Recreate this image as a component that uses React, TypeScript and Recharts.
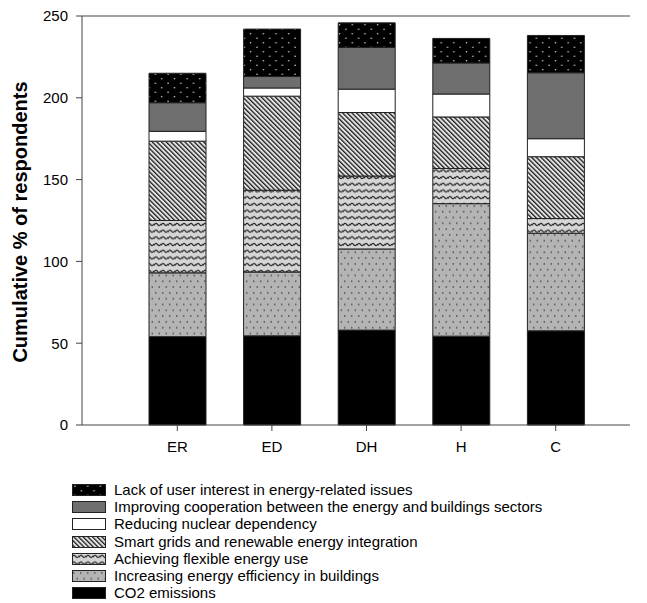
import React from "react";
import { BarChart, Bar, XAxis, YAxis, ReferenceLine } from "recharts";

const categories = ["ER", "ED", "DH", "H", "C"];
const co2Emissions = [54, 54.5, 58, 54.3, 57.6];
const energyEfficiency = [39, 39, 49.6, 81, 59.6];
const flexibleUse = [32, 50, 44.6, 21.5, 9];
const smartGrids = [48.5, 57.5, 38.8, 31.5, 37.8];
const nuclearDependency = [6, 5, 14.3, 14, 11];
const cooperation = [17.5, 7, 25.5, 19, 40.3];
const lackOfInterest = [18, 29, 15, 15, 22.8];
const yTicks = [0, 50, 100, 150, 200, 250];

const seriesNames = {
  co2: "CO2 emissions",
  eff: "Increasing energy efficiency in buildings",
  flex: "Achieving flexible energy use",
  smart: "Smart grids and renewable energy integration",
  nuclear: "Reducing nuclear dependency",
  coop: "Improving cooperation between the energy and\u2009buildings sectors",
  lack: "Lack of user interest in energy-related issues",
};

const data = categories.map((c, i) => ({
  cat: c,
  co2: co2Emissions[i],
  eff: energyEfficiency[i],
  flex: flexibleUse[i],
  smart: smartGrids[i],
  nuclear: nuclearDependency[i],
  coop: cooperation[i],
  lack: lackOfInterest[i],
}));

const FONT = "'Liberation Sans', Arial, Helvetica, sans-serif";

function PatternDefs({ p }: { p: string }) {
  return (
    <defs>
      <pattern id={`${p}lack`} patternUnits="userSpaceOnUse" width="12.7" height="9">
        <rect width="12.7" height="9" fill="#000" />
        <circle cx="3" cy="2.25" r="0.8" fill="#d0d0d0" />
        <circle cx="9.35" cy="6.75" r="0.8" fill="#d0d0d0" />
      </pattern>
      <pattern id={`${p}eff`} patternUnits="userSpaceOnUse" width="7" height="11.6">
        <rect width="7" height="11.6" fill="#b4b4b4" />
        <circle cx="1.75" cy="2.9" r="0.8" fill="#333" />
        <circle cx="5.25" cy="8.7" r="0.8" fill="#333" />
      </pattern>
      <pattern id={`${p}flex`} patternUnits="userSpaceOnUse" width="7" height="6.7">
        <rect width="7" height="6.7" fill="#d6d6d6" />
        <path d="M0 4.3 Q1.75 0.7 3.5 3.3 T7 2.8" fill="none" stroke="#2a2a2a" strokeWidth="1.2" />
      </pattern>
      <pattern id={`${p}smart`} patternUnits="userSpaceOnUse" width="3.3" height="10" patternTransform="rotate(-45)">
        <rect width="3.3" height="10" fill="#e4e4e4" />
        <rect x="0" width="1.3" height="10" fill="#1e1e1e" />
      </pattern>
    </defs>
  );
}

function fillFor(key: string, p: string) {
  if (key === "co2") return "#000000";
  if (key === "nuclear") return "#ffffff";
  if (key === "coop") return "#6e6e6e";
  return `url(#${p}${key})`;
}

const stackOrder = ["co2", "eff", "flex", "smart", "nuclear", "coop", "lack"];
const legendOrder = ["lack", "coop", "nuclear", "smart", "flex", "eff", "co2"];

const YLabel = () => (
  <text
    x={20}
    y={222}
    transform="rotate(-90, 20, 222)"
    textAnchor="middle"
    dominantBaseline="central"
    fontFamily={FONT}
    fontWeight="bold"
    fontSize={20}
    fill="#000"
  >
    Cumulative % of respondents
  </text>
);

export default function App() {
  return (
    <div
      style={{
        position: "absolute",
        left: 0,
        top: 0,
        width: 647,
        height: 603,
        background: "#fff",
        fontFamily: FONT,
        overflow: "hidden",
      }}
    >
      <BarChart
        width={647}
        height={460}
        data={data}
        margin={{ top: 16, right: 17, left: 22, bottom: 5 }}
        barSize={57}
      >
        <PatternDefs p="c" />
        <ReferenceLine y={250} stroke="#444" strokeWidth={1.2} ifOverflow="visible" />
        <XAxis
          dataKey="cat"
          height={30}
          padding={{ left: 48, right: 27 }}
          tickSize={6}
          tickMargin={10}
          stroke="#444"
          tick={{ fill: "#000", fontSize: 15, fontFamily: FONT }}
        />
        <YAxis
          width={60}
          domain={[0, 250]}
          ticks={yTicks}
          tickSize={6}
          tickMargin={8}
          stroke="#444"
          tick={{ fill: "#000", fontSize: 15, fontFamily: FONT }}
          label={<YLabel />}
        />
        {stackOrder.map((k) => (
          <Bar
            key={k}
            dataKey={k}
            name={(seriesNames as any)[k]}
            stackId="a"
            fill={fillFor(k, "c")}
            stroke="#222"
            strokeWidth={1}
            isAnimationActive={false}
          />
        ))}
      </BarChart>
      {legendOrder.map((k, i) => (
        <div
          key={k}
          style={{
            position: "absolute",
            left: 72,
            top: 481 + i * 17.2,
            height: 18,
            display: "flex",
            alignItems: "center",
            whiteSpace: "nowrap",
          }}
        >
          <svg width={34} height={12} style={{ display: "block" }}>
            <PatternDefs p={`l${i}`} />
            <rect
              x={0.5}
              y={0.5}
              width={33}
              height={11}
              fill={fillFor(k, `l${i}`)}
              stroke="#222"
              strokeWidth={1}
            />
          </svg>
          <span style={{ marginLeft: 8, fontSize: 15, color: "#000", lineHeight: "18px" }}>
            {(seriesNames as any)[k]}
          </span>
        </div>
      ))}
    </div>
  );
}
